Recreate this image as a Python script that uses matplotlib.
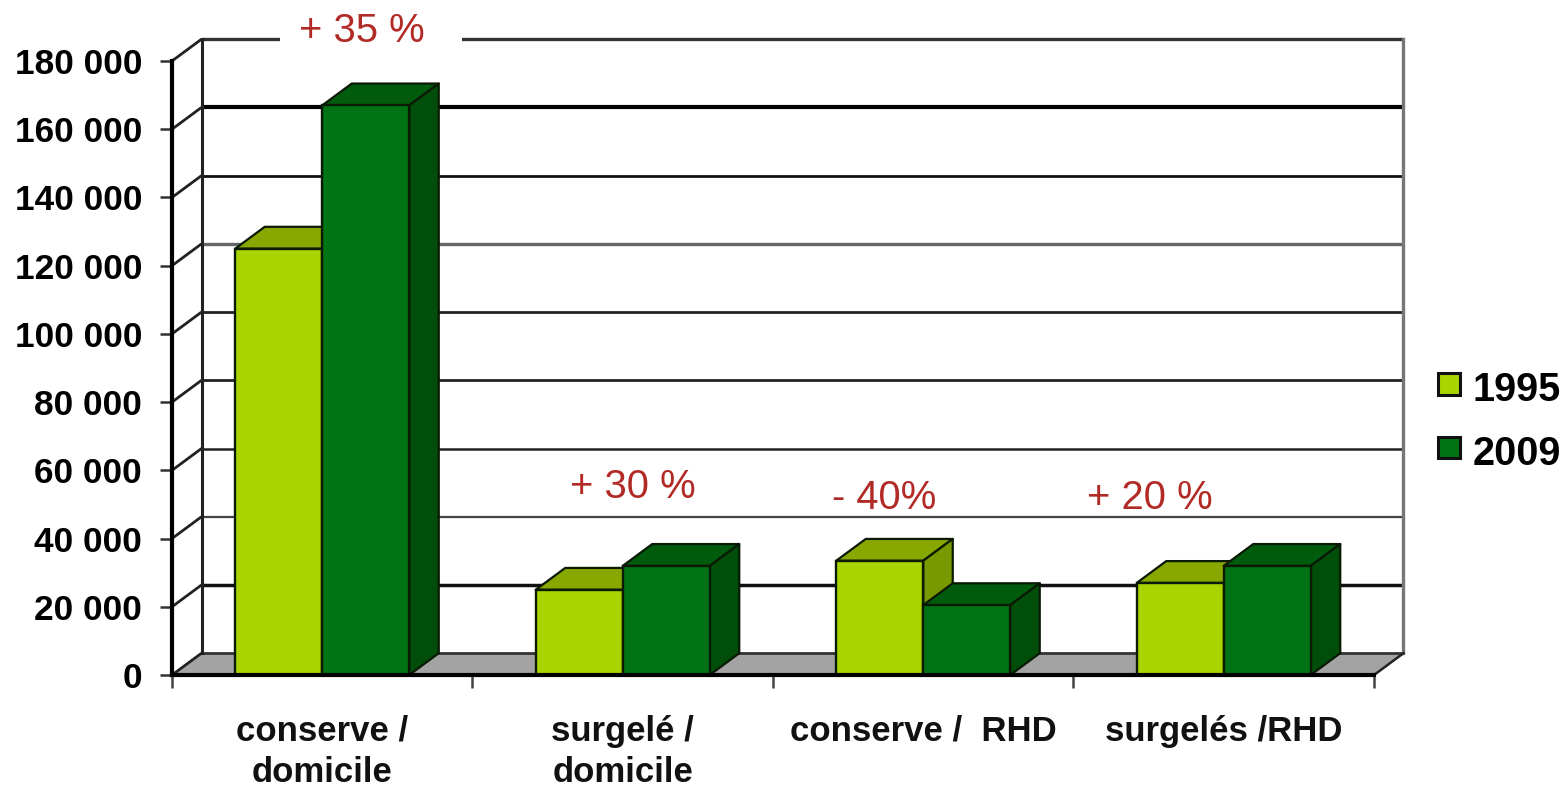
import matplotlib
matplotlib.use("Agg")
import matplotlib.pyplot as plt
from matplotlib.patches import Polygon, Patch, Rectangle
from matplotlib.legend_handler import HandlerPatch

plt.rcParams['font.family'] = ['Liberation Sans', 'DejaVu Sans']

categories = ["conserve /\ndomicile", "surgelé /\ndomicile", "conserve /  RHD", "surgelés /RHD"]
series_names = ["1995", "2009"]
values_1995 = [125000, 25000, 33500, 27000]
values_2009 = [167000, 32000, 20500, 32000]
y_ticks = [0, 20000, 40000, 60000, 80000, 100000, 120000, 140000, 160000, 180000]
y_tick_labels = ["0", "20 000", "40 000", "60 000", "80 000", "100 000", "120 000", "140 000", "160 000", "180 000"]
annotations = ["+ 35 %", "+ 30 %", "- 40%", "+ 20 %"]
annotation_x = [0.63, 1.535, 2.37, 3.255]
annotation_y = [188700, 55200, 52000, 52000]

W, H = 1565, 786
L, R, T, B = 172, 1374, 61, 675
fig = plt.figure(figsize=(W / 100, H / 100), dpi=100, facecolor="white")
ax = fig.add_axes([L / W, 1 - B / H, (R - L) / W, (B - T) / H])
ax.set_xlim(0, 4)
ax.set_ylim(0, 180000)
ax.patch.set_alpha(0)

DX = 29.5 * 4 / (R - L)
DY = 21.8 * 180000 / (B - T)
BAR_W = 87 * 4 / (R - L)

LIGHT = ("#aad400", "#88a800", "#7a9800")
DARK = ("#007414", "#005c0c", "#004e0a")
EDGE = "#0a1a05"

# floor
ax.add_patch(Polygon([(0, 0), (4, 0), (4 + DX, DY), (DX, DY)], closed=True,
                     fc="#a3a3a3", ec="none", zorder=1, clip_on=False))

# back wall + left wall grid lines
grid_lw = [2.0, 2.5, 1.6, 1.8, 2.0, 2.0, 2.4, 2.0, 3.0, 2.4]
grid_col = ["#333333", "#111111", "#444444", "#222222", "#222222", "#222222", "#666666", "#111111", "#000000", "#333333"]
for v, lw, c in zip(y_ticks, grid_lw, grid_col):
    ax.plot([DX, 4 + DX], [v + DY, v + DY], color=c, lw=lw, zorder=1.5, clip_on=False, solid_capstyle="butt")
    ax.plot([0, DX], [v, v + DY], color="#222222", lw=2.0, zorder=1.5, clip_on=False, solid_capstyle="butt")
ax.plot([DX, DX], [DY, 180000 + DY], color="#222222", lw=2.2, zorder=1.6, clip_on=False)
ax.plot([4 + DX, 4 + DX], [DY, 180000 + DY], color="#777777", lw=2.4, zorder=1.6, clip_on=False)
ax.plot([4, 4 + DX], [0, DY], color="#222222", lw=1.8, zorder=1.6, clip_on=False)

# white gap behind the first annotation
gap_l = (280 - L) * 4 / (R - L)
gap_w = (462 - 280) * 4 / (R - L)
ax.add_patch(Rectangle((gap_l, 180000 + DY - 1500), gap_w, 3000, fc="white", ec="none", zorder=1.8, clip_on=False))


def bar3d(x_left, v, cols, z):
    x_right = x_left + BAR_W
    ax.add_patch(Polygon([(x_left, v), (x_right, v), (x_right + DX, v + DY), (x_left + DX, v + DY)],
                         closed=True, fc=cols[1], ec=EDGE, lw=1.6, zorder=z, joinstyle="round", clip_on=False))
    ax.add_patch(Polygon([(x_right, 0), (x_right + DX, DY), (x_right + DX, v + DY), (x_right, v)],
                         closed=True, fc=cols[2], ec=EDGE, lw=1.6, zorder=z, joinstyle="round", clip_on=False))
    ax.bar(x_left, v, width=BAR_W, align="edge", color=cols[0], edgecolor=EDGE, linewidth=1.7,
           zorder=z + 0.1, clip_on=False)


for i, (a, b) in enumerate(zip(values_1995, values_2009)):
    centre = i + 0.5
    bar3d(centre - BAR_W, a, LIGHT, 2 + i + 0.1)
    bar3d(centre, b, DARK, 2 + i + 0.4)

# axes, ticks, labels
for s in ("top", "right"):
    ax.spines[s].set_visible(False)
for s in ("left", "bottom"):
    ax.spines[s].set_linewidth(3)
    ax.spines[s].set_color("black")
    ax.spines[s].set_zorder(10)
ax.set_yticks(y_ticks)
ax.set_yticklabels(y_tick_labels, fontsize=25.4, fontweight="bold", color="black")
ax.tick_params(axis="y", length=8.5, width=1.8, color="#333333", pad=13)
ax.set_xticks([0, 1, 2, 3, 4])
ax.set_xticklabels([])
ax.tick_params(axis="x", which="major", length=9, width=1.8, color="#444444")
ax.set_xticks([0.5, 1.5, 2.5, 3.5], minor=True)
ax.set_xticklabels(categories, minor=True, fontsize=25, fontweight="bold", color="#111111", linespacing=1.32)
ax.tick_params(axis="x", which="minor", length=0, pad=28.5)

for t, x, y in zip(annotations, annotation_x, annotation_y):
    ax.text(x, y, t, color="#b22a26", fontsize=28.8, ha="center", va="center", zorder=12, clip_on=False)

handles = [Patch(fc=LIGHT[0], ec="#111111", lw=2.2), Patch(fc=DARK[0], ec="#111111", lw=2.2)]
fig.legend(handles, series_names, loc="center left", bbox_to_anchor=(1438 / W, 1 - 422 / H), frameon=False,
           prop={"family": "Liberation Sans", "weight": "bold", "size": 28.5},
           handler_map={Patch: HandlerPatch(ypad=0.17)},
           handlelength=0.55, handleheight=0.72, handletextpad=0.32, labelspacing=0.65, borderpad=0, borderaxespad=0)

fig.savefig("out.png", dpi=100, facecolor="white")
